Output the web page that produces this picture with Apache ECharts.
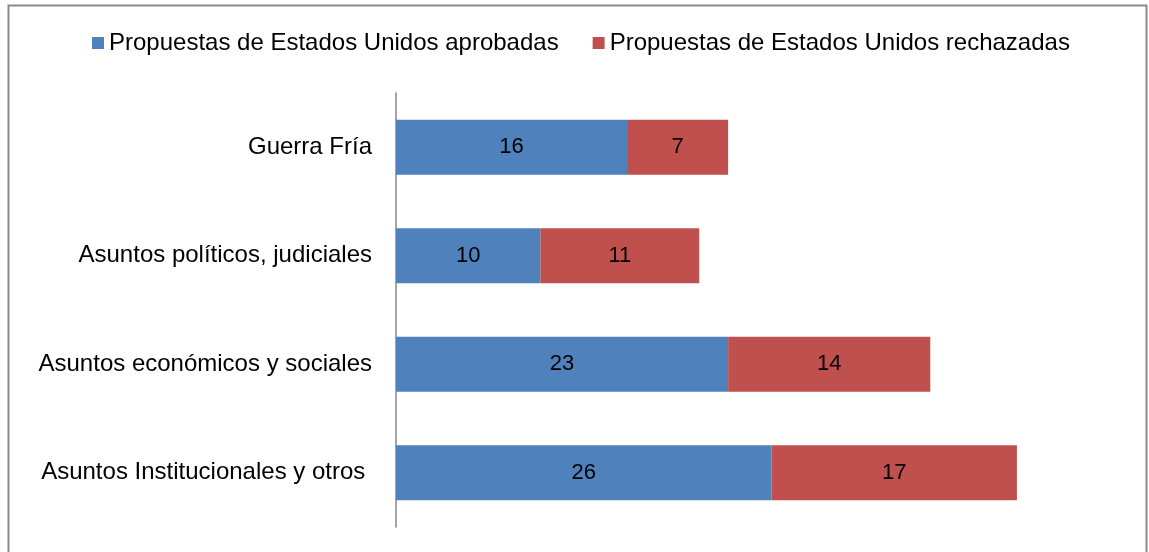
<!DOCTYPE html>
<html>
<head>
<meta charset="utf-8">
<script src="https://cdn.jsdelivr.net/npm/echarts@6/dist/echarts.min.js"></script>
<style>
  html, body { margin: 0; padding: 0; background: #fff; }
  #chart { width: 1149px; height: 552px; }
</style>
</head>
<body>
<div id="chart"></div>
<script>
// categorías (de arriba a abajo)
const categories = [
  "Guerra Fría",
  "Asuntos políticos, judiciales",
  "Asuntos económicos y sociales",
  "Asuntos Institucionales y otros "
];
const aprobadas = [16, 10, 23, 26];
const rechazadas = [7, 11, 14, 17];
const seriesNames = [
  "Propuestas de Estados Unidos aprobadas",
  "Propuestas de Estados Unidos rechazadas"
];

const FONT = "Liberation Sans, Arial, sans-serif";

const myChart = echarts.init(document.getElementById("chart"));

const labelStyle = {
  show: true,
  position: "inside",
  color: "#000",
  fontSize: 22,
  fontFamily: FONT,
};

const option = {
  animation: false,
  backgroundColor: "#fff",
  graphic: [
    {
      type: "rect",
      shape: { x: 8.5, y: 5.5, width: 1138, height: 560 },
      style: { fill: "none", stroke: "#898989", lineWidth: 2 },
      silent: true,
    },
  ],
  legend: {
    top: 26,
    left: 87,
    itemWidth: 12,
    itemHeight: 12,
    itemGap: 34,
    icon: "rect",
    textStyle: { fontSize: 24, fontFamily: FONT, color: "#000" },
    data: seriesNames,
  },
  grid: { left: 396, right: 31, top: 93, bottom: 25, containLabel: false },
  xAxis: {
    type: "value",
    min: 0,
    max: 50,
    show: false,
  },
  yAxis: {
    type: "category",
    inverse: true,
    data: categories,
    axisLine: { show: true, lineStyle: { color: "#868686", width: 1.5 } },
    axisTick: { show: false },
    axisLabel: { margin: 24, fontSize: 24, fontFamily: FONT, color: "#000" },
  },
  series: [
    {
      name: seriesNames[0],
      type: "bar",
      stack: "total",
      barWidth: 55,
      data: aprobadas,
      itemStyle: { color: "#4F81BD" },
      label: labelStyle,
    },
    {
      name: seriesNames[1],
      type: "bar",
      stack: "total",
      barWidth: 55,
      data: rechazadas,
      itemStyle: { color: "#C0504D" },
      label: labelStyle,
    },
  ],
};

myChart.setOption(option);
</script>
</body>
</html>
